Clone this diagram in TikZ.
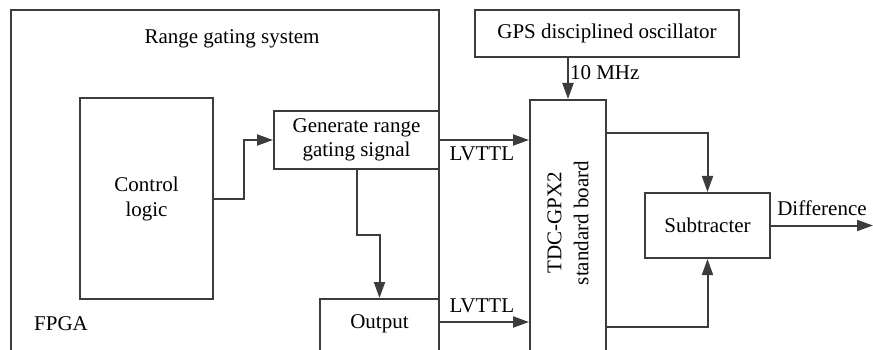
\documentclass[tikz,border=0pt]{standalone}
\usepackage{fontspec}
\setmainfont{Liberation Serif}
\usetikzlibrary{arrows.meta,calc}
\definecolor{ln}{RGB}{60,60,60}
\begin{document}
\begin{tikzpicture}[x=1pt,y=-1pt,
  font=\fontsize{21}{25}\selectfont,
  blk/.style={draw=ln,line width=2pt,inner sep=0pt},
  arr/.style={draw=ln,line width=2pt,-{Triangle[length=16pt,width=11pt]}},
  txt/.style={inner sep=1pt,align=center}]
\useasboundingbox (0,0) rectangle (873,350);
\clip (0,0) rectangle (873,350);
% boxes
\node[blk,minimum width=428pt,minimum height=360pt] (fpga) at (225,190) {};
\node[blk,minimum width=133pt,minimum height=201pt] (ctrl) at (146.5,198.5) {};
\node[blk,minimum width=165pt,minimum height=58pt,align=center] (gen) at (356.5,140) {};
\node[blk,fill=white,minimum width=119pt,minimum height=71pt] (out) at (379.5,334.5) {};
\node[blk,minimum width=264pt,minimum height=47pt] (gps) at (607,33.5) {GPS disciplined oscillator};
\node[blk,minimum width=76pt,minimum height=270pt] (tdc) at (568,235) {};
\node[blk,minimum width=125pt,minimum height=65pt] (sub) at (707.5,225.5) {Subtracter};
% texts
\node[txt] (title) at (232,39) {Range gating system};
\node[txt] (fpgatxt) at (61,324) {FPGA};
\node[txt] (ctrltxt) at (ctrl) {Control\\logic};
\node[txt,font=\fontsize{21}{24}\selectfont] (gentxt) at (gen) {Generate range\\gating signal};
\node[txt] (outtxt) at (379.5,324) {Output};
\node[txt,rotate=90,font=\fontsize{21}{27}\selectfont] (tdctxt) at (568,223) {TDC-GPX2\\standard board};
\coordinate (diffend) at (873,225.5);
% connectors
\draw[arr] (ctrl.east) -- ++(30,0) |- (gen.west);
\draw[arr] (gen.south) -- ++(0,65) -| (out.north);
\draw[arr] (tdc.north |- gps.south) -- node[right,txt,pos=0.35] {10 MHz} (tdc.north);
\draw[arr] (gen.east) -- node[below=5pt,txt,pos=0.47] {LVTTL} (tdc.west |- gen.east);
\draw[arr] ($(out.north east)+(0,24)$) -- node[above=7pt,txt,pos=0.47] {LVTTL} ($(tdc.north west)+(0,223)$);
\draw[arr] ($(tdc.north east)+(0,34)$) -| (sub.north);
\draw[arr] ($(tdc.north east)+(0,228)$) -| (sub.south);
\draw[arr] (sub.east) -- node[above=8pt,txt,pos=0.5] {Difference} (diffend);
\end{tikzpicture}
\end{document}
